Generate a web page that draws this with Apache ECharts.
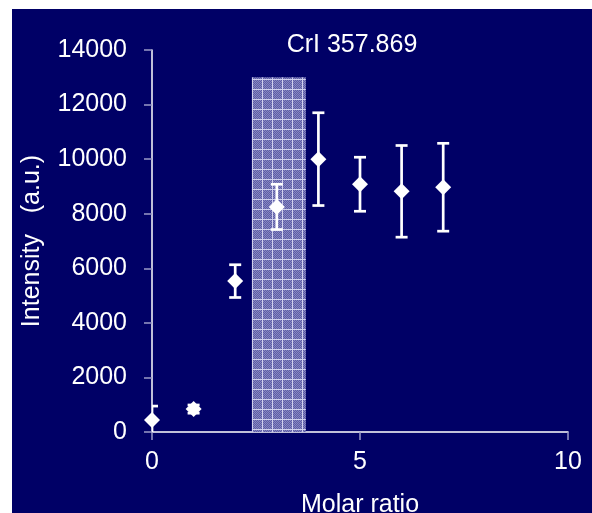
<!DOCTYPE html>
<html>
<head>
<meta charset="utf-8">
<script src="https://cdn.jsdelivr.net/npm/echarts@6/dist/echarts.min.js"></script>
<style>
  html, body { margin: 0; padding: 0; background: #ffffff; width: 592px; height: 513px; overflow: hidden; }
  #chart { position: absolute; left: 12px; top: 9px; width: 580px; height: 504px; background: #000066; }
</style>
</head>
<body>
<div id="chart"></div>
<script>
// Molar ratio vs. CrI 357.869 line intensity
const ratios      = [0, 1, 2, 3, 4, 5, 6, 7];
const intensities = [440, 840, 5530, 8250, 10000, 9080, 8820, 8970];
const errors      = [510, 150, 600, 830, 1700, 990, 1680, 1610];

// Highlighted molar-ratio band
const bandX = [2.4, 3.7];
const bandY = [0, 13000];

const xTicks = { min: 0, max: 10, interval: 5 };
const yTicks = { min: 0, max: 14000, interval: 2000 };

// Hatched fill for the band: tinted squares with light grid lines
function makePattern() {
  const c = document.createElement('canvas');
  c.width = 10; c.height = 10;
  const g = c.getContext('2d');
  for (let y = 0; y < 10; y++) {
    for (let x = 0; x < 10; x++) {
      g.fillStyle = ((x + y) % 2 === 0) ? '#5c5ca6' : '#8888c2';
      g.fillRect(x, y, 1, 1);
    }
  }
  g.fillStyle = '#d0d0ee';
  g.fillRect(0, 0, 10, 1);
  g.fillRect(0, 0, 1, 10);
  return c;
}

const chart = echarts.init(document.getElementById('chart'), null, { renderer: 'canvas' });
const font = 'Liberation Sans, Arial, sans-serif';

const points = ratios.map((r, i) => [r, intensities[i]]);
const bars = ratios.map((r, i) => [r, intensities[i] - errors[i], intensities[i] + errors[i]]);

chart.setOption({
  backgroundColor: '#000066',
  animation: false,
  title: {
    text: 'CrI 357.869',
    left: 335, top: 19,
    textAlign: 'center',
    textStyle: { color: '#ffffff', fontFamily: font, fontSize: 25, fontWeight: 'normal' }
  },
  grid: { left: 140, right: 24, top: 41, bottom: 81, containLabel: false, outerBoundsMode: 'none' },
  xAxis: {
    type: 'value',
    min: xTicks.min, max: xTicks.max, interval: xTicks.interval,
    name: 'Molar ratio',
    nameLocation: 'middle',
    nameGap: 61,
    nameTextStyle: { color: '#ffffff', fontFamily: font, fontSize: 25 },
    axisLine: { show: true, lineStyle: { color: '#ffffff', width: 1.5 } },
    axisTick: { show: true, length: 8, lineStyle: { color: '#9a9ac8', width: 1.5 } },
    axisLabel: { color: '#ffffff', fontFamily: font, fontSize: 25, margin: 18 },
    splitLine: { show: false }
  },
  yAxis: {
    type: 'value',
    min: yTicks.min, max: yTicks.max, interval: yTicks.interval,
    name: 'Intensity   (a.u.)',
    nameLocation: 'middle',
    nameGap: 107,
    nameRotate: 90,
    nameTextStyle: { color: '#ffffff', fontFamily: font, fontSize: 25 },
    axisLine: { show: true, lineStyle: { color: '#ffffff', width: 1.5 } },
    axisTick: { show: true, length: 8, lineStyle: { color: '#9a9ac8', width: 1.5 } },
    axisLabel: {
      color: '#ffffff', fontFamily: font, fontSize: 25, margin: 25,
      formatter: function (v) { return String(v); }
    },
    splitLine: { show: false }
  },
  series: [
    {
      type: 'scatter',
      data: [],
      silent: true,
      markArea: {
        silent: true,
        itemStyle: { color: { image: makePattern(), repeat: 'repeat' }, opacity: 1 },
        data: [[{ coord: [bandX[0], bandY[0]] }, { coord: [bandX[1], bandY[1]] }]]
      }
    },
    {
      type: 'custom',
      clip: true,
      z: 3,
      data: bars,
      renderItem: function (params, api) {
        const x = api.value(0);
        const lo = api.coord([x, api.value(1)]);
        const hi = api.coord([x, api.value(2)]);
        const half = 6;
        const style = { stroke: '#ffffff', lineWidth: 2.7 };
        return {
          type: 'group',
          children: [
            { type: 'line', shape: { x1: lo[0], y1: lo[1], x2: hi[0], y2: hi[1] }, style: style },
            { type: 'line', shape: { x1: hi[0] - half, y1: hi[1], x2: hi[0] + half, y2: hi[1] }, style: style },
            { type: 'line', shape: { x1: lo[0] - half, y1: lo[1], x2: lo[0] + half, y2: lo[1] }, style: style }
          ]
        };
      }
    },
    {
      type: 'scatter',
      z: 4,
      data: points,
      symbol: 'diamond',
      symbolSize: 16,
      clip: false,
      itemStyle: { color: '#ffffff', opacity: 1 }
    }
  ]
});
</script>
</body>
</html>
